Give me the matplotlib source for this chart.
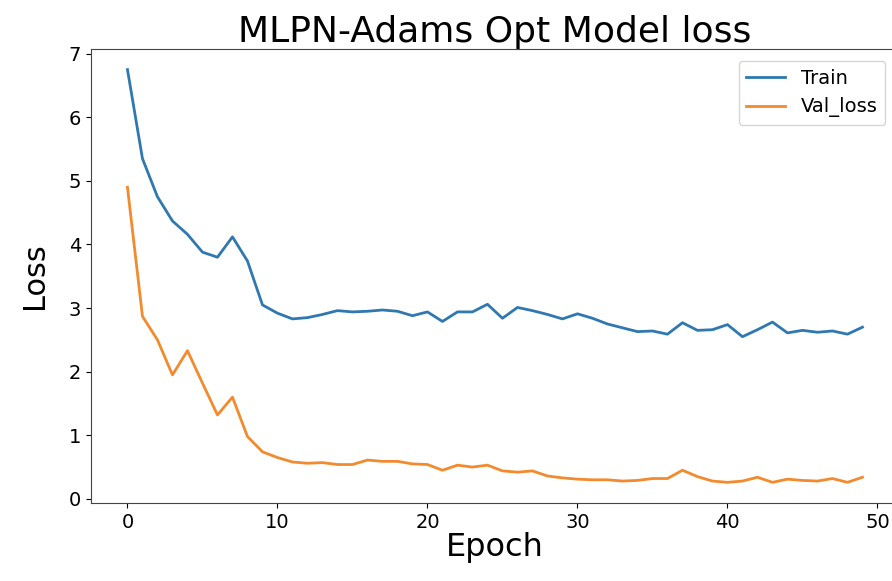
import matplotlib
matplotlib.use("Agg")
from matplotlib import pyplot as plt
import numpy as np

epochs = np.arange(50)

train_loss = [6.75, 5.35, 4.75, 4.37, 4.16, 3.88, 3.80, 4.12, 3.74, 3.05,
              2.92, 2.83, 2.85, 2.90, 2.96, 2.94, 2.95, 2.97, 2.95, 2.88,
              2.94, 2.79, 2.94, 2.94, 3.06, 2.84, 3.01, 2.96, 2.90, 2.83,
              2.91, 2.84, 2.75, 2.69, 2.63, 2.64, 2.59, 2.77, 2.65, 2.66,
              2.74, 2.55, 2.66, 2.78, 2.61, 2.65, 2.62, 2.64, 2.59, 2.70]

val_loss = [4.90, 2.87, 2.50, 1.95, 2.33, 1.82, 1.32, 1.60, 0.98, 0.74,
            0.65, 0.58, 0.56, 0.57, 0.54, 0.54, 0.61, 0.59, 0.59, 0.55,
            0.54, 0.45, 0.53, 0.50, 0.53, 0.44, 0.42, 0.44, 0.36, 0.33,
            0.31, 0.30, 0.30, 0.28, 0.29, 0.32, 0.32, 0.45, 0.35, 0.28,
            0.26, 0.28, 0.34, 0.26, 0.31, 0.29, 0.28, 0.32, 0.26, 0.34]

fig = plt.figure(figsize=(8.92, 5.81), dpi=100)
# the original screenshot cuts the right side of the axes off
ax = fig.add_axes([0.1017, 0.1343, 0.9064, 0.7814])

ax.plot(epochs, train_loss, color='#2f78b0', lw=2, label='Train')
ax.plot(epochs, val_loss, color='#f28a2e', lw=2, label='Val_loss')

ax.set_title('MLPN-Adams Opt Model loss', fontsize=26, pad=5)
ax.set_xlabel('Epoch', fontsize=23, labelpad=0)
ax.set_ylabel('Loss', fontsize=22, labelpad=14)
ax.set_xticks([0, 10, 20, 30, 40, 50])
ax.set_yticks(range(8))
ax.tick_params(labelsize=14)
for s in ax.spines.values():
    s.set_color('#444444')
ax.legend(loc='upper right', fontsize=14, bbox_to_anchor=(0.995, 0.995))

fig.savefig('out.png', dpi=100)
